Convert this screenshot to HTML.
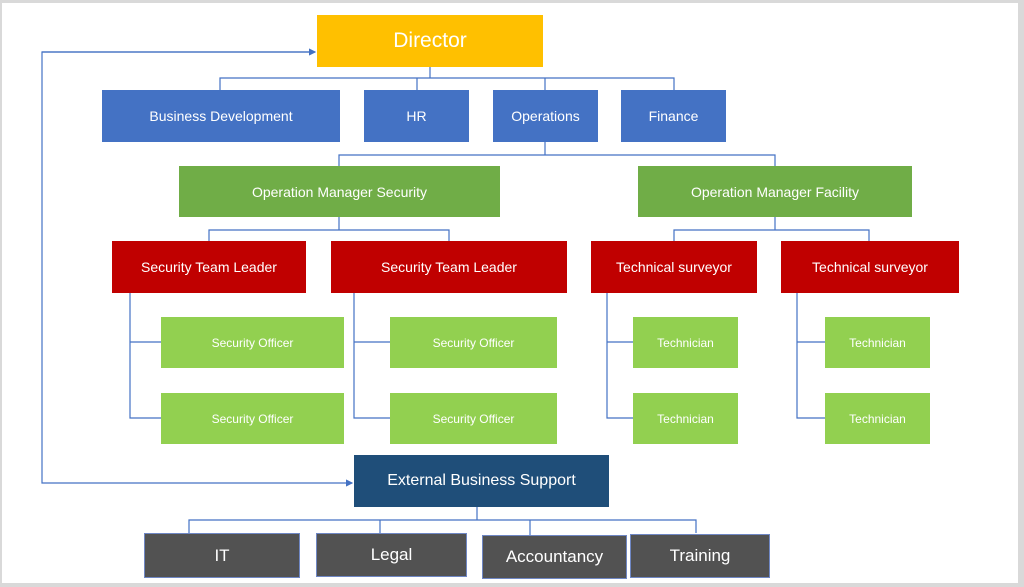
<!DOCTYPE html>
<html><head><style>
body{margin:0;width:1024px;height:587px;background:#d9d9d9;position:relative;overflow:hidden;font-family:"Liberation Sans",sans-serif}
.pg{position:absolute;left:2px;top:3px;width:1016px;height:580px;background:#fff}
.b{position:absolute;display:flex;align-items:center;justify-content:center;color:#fff;box-sizing:border-box;font-size:14px}
.bl{background:#4472C4}.gr{background:#70AD47}.rd{background:#C00000}.lg{background:#92D050;font-size:12px}
.dk{background:#525252;border:1px solid #6f87c4;font-size:17px}
</style></head><body>
<div class="pg"></div>
<svg width="1024" height="587" style="position:absolute;left:0;top:0">
<defs><marker id="a" markerWidth="6" markerHeight="6" refX="5" refY="3" orient="auto"><path d="M0,0L6,3L0,6z" fill="#4472C4"/></marker></defs>
<g stroke="#4472C4" stroke-width="1.2" fill="none">
<path d="M430,67V78M220,90V78H674V90M417,78V90M545,78V90"/>
<path d="M545,142V155M339,166V155H775V166"/>
<path d="M339,217V230M209,241V230H449V241M775,217V230M674,241V230H869V241"/>
<path d="M130,293V418H161M130,342H161"/>
<path d="M354,293V418H390M354,342H390"/>
<path d="M607,293V418H633M607,342H633"/>
<path d="M797,293V418H825M797,342H825"/>
<path d="M477,507V520M189,533V520H696V533M380,520V533M530,520V535"/>
<path d="M312,52H42V483H352" marker-end="url(#a)"/>
<path d="M42,52H315" marker-end="url(#a)"/>
</g></svg>
<div class="b" style="left:317px;top:15px;width:226px;height:52px;background:#FFC000;font-size:21px">Director</div>
<div class="b bl" style="left:102px;top:90px;width:238px;height:52px">Business Development</div>
<div class="b bl" style="left:364px;top:90px;width:105px;height:52px">HR</div>
<div class="b bl" style="left:493px;top:90px;width:105px;height:52px">Operations</div>
<div class="b bl" style="left:621px;top:90px;width:105px;height:52px">Finance</div>
<div class="b gr" style="left:179px;top:166px;width:321px;height:51px">Operation Manager Security</div>
<div class="b gr" style="left:638px;top:166px;width:274px;height:51px">Operation Manager Facility</div>
<div class="b rd" style="left:112px;top:241px;width:194px;height:52px">Security Team Leader</div>
<div class="b rd" style="left:331px;top:241px;width:236px;height:52px">Security Team Leader</div>
<div class="b rd" style="left:591px;top:241px;width:166px;height:52px">Technical surveyor</div>
<div class="b rd" style="left:781px;top:241px;width:178px;height:52px">Technical surveyor</div>
<div class="b lg" style="left:161px;top:317px;width:183px;height:51px">Security Officer</div>
<div class="b lg" style="left:161px;top:393px;width:183px;height:51px">Security Officer</div>
<div class="b lg" style="left:390px;top:317px;width:167px;height:51px">Security Officer</div>
<div class="b lg" style="left:390px;top:393px;width:167px;height:51px">Security Officer</div>
<div class="b lg" style="left:633px;top:317px;width:105px;height:51px">Technician</div>
<div class="b lg" style="left:633px;top:393px;width:105px;height:51px">Technician</div>
<div class="b lg" style="left:825px;top:317px;width:105px;height:51px">Technician</div>
<div class="b lg" style="left:825px;top:393px;width:105px;height:51px">Technician</div>
<div class="b" style="left:354px;top:455px;width:255px;height:52px;background:#1F4E79;font-size:16px">External Business Support</div>
<div class="b dk" style="left:144px;top:533px;width:156px;height:45px">IT</div>
<div class="b dk" style="left:316px;top:533px;width:151px;height:44px">Legal</div>
<div class="b dk" style="left:482px;top:535px;width:145px;height:44px">Accountancy</div>
<div class="b dk" style="left:630px;top:534px;width:140px;height:44px">Training</div>
</body></html>
